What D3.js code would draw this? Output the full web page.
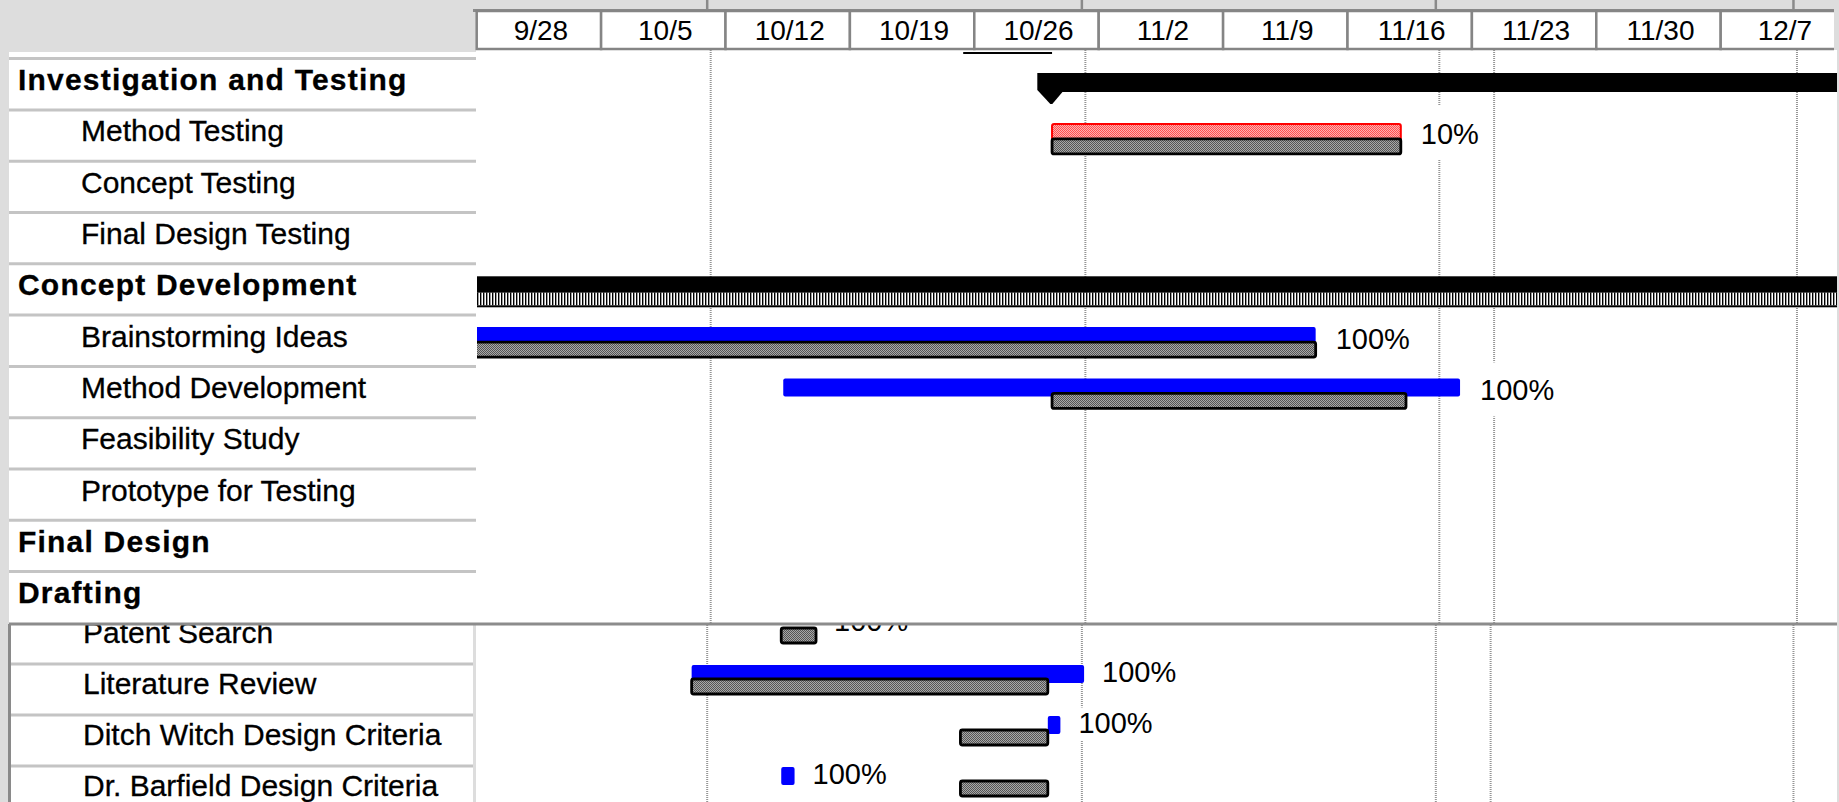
<!DOCTYPE html>
<html lang="en">
<head>
<meta charset="UTF-8">
<title>Project Schedule - Gantt Chart</title>
<script src="https://d3js.org/d3.v7.min.js"></script>
<style>
  html, body { margin: 0; padding: 0; background: #dddddd; overflow: hidden; }
  svg { display: block; font-family: "Liberation Sans", Arial, sans-serif; }
</style>
</head>
<body>
<svg id="chart" width="1839" height="802"></svg>
<script>
const upperTasks = ["Investigation and Testing", "Method Testing", "Concept Testing", "Final Design Testing",
  "Concept Development", "Brainstorming Ideas", "Method Development", "Feasibility Study",
  "Prototype for Testing", "Final Design", "Drafting"];
const upperLevels = [0, 1, 1, 1, 0, 1, 1, 1, 1, 0, 0];
const lowerTasks = ["Patent Search", "Literature Review", "Ditch Witch Design Criteria", "Dr. Barfield Design Criteria"];

const weekLabels = ["9/28", "10/5", "10/12", "10/19", "10/26", "11/2", "11/9", "11/16", "11/23", "11/30", "12/7"];
const gridDates = ["2008-10-11 04:00", "2008-11-01 06:00", "2008-11-21 04:00", "2008-12-11 07:00"];
const statusDate = "2008-11-24 06:00";
const headerMark = ["2008-10-25 09:00", "2008-10-30 09:00"];

// summary bars (run past the visible window)
const summaryTasks = ["Investigation and Testing", "Concept Development"];
const summaryStart = ["2008-10-30 08:00", "2008-09-20 00:00"];
const summaryEnd = ["2008-12-31 00:00", "2008-12-31 00:00"];
const summaryBaseline = [false, true];

// actual progress bars
const actualTasks = ["Method Testing", "Brainstorming Ideas", "Method Development",
  "Literature Review", "Ditch Witch Design Criteria", "Dr. Barfield Design Criteria"];
const actualStart = ["2008-10-30 09:00", "2008-09-15 00:00", "2008-10-15 06:00",
  "2008-10-10 07:00", "2008-10-30 08:00", "2008-10-15 08:00"];
const actualEnd = ["2008-11-19 00:00", "2008-11-14 05:00", "2008-11-22 08:00",
  "2008-11-01 09:00", "2008-10-31 01:00", "2008-10-16 02:00"];
const actualCritical = [true, false, false, false, false, false];

// baseline bars
const baseTasks = ["Method Testing", "Brainstorming Ideas", "Method Development", "Patent Search",
  "Literature Review", "Ditch Witch Design Criteria", "Dr. Barfield Design Criteria"];
const baseStart = ["2008-10-30 09:00", "2008-09-15 00:00", "2008-10-30 09:00", "2008-10-15 08:00",
  "2008-10-10 07:00", "2008-10-25 10:00", "2008-10-25 10:00"];
const baseEnd = ["2008-11-19 00:00", "2008-11-14 05:00", "2008-11-19 07:00", "2008-10-17 07:00",
  "2008-10-30 08:00", "2008-10-30 08:00", "2008-10-30 08:00"];

// percent complete labels
const pctTasks = ["Method Testing", "Brainstorming Ideas", "Method Development", "Patent Search",
  "Literature Review", "Ditch Witch Design Criteria", "Dr. Barfield Design Criteria"];
const pctValues = [10, 100, 100, 100, 100, 100, 100];

// ---- setup ----
const W = 1839, H = 802;
const chartLeft = 476, chartRight = 1837, splitY = 624;
const parseT = d3.utcParse("%Y-%m-%d %H:%M");
const parseW = s => d3.utcParse("%Y/%m/%d")("2008/" + s);

const firstWeek = parseW(weekLabels[0]);
const lastWeek = d3.utcDay.offset(parseW(weekLabels[weekLabels.length - 1]), 7);
const x = d3.scaleUtc().domain([firstWeek, lastWeek]).range([476.7, 476.7 + 124.4 * weekLabels.length]);
const xLow = x.copy().range(x.range().map(v => v - 3.5));   // lower screenshot sits a bit left

const yUp = d3.scaleBand().domain(upperTasks).range([58.6, 58.6 + 51.3 * upperTasks.length]);
const yLow = d3.scaleBand().domain(lowerTasks).range([613, 613 + 51 * lowerTasks.length]);

const isUpper = t => upperTasks.includes(t);
const rowTop = t => isUpper(t) ? yUp(t) : yLow(t);

const svg = d3.select("#chart");
const defs = svg.append("defs");

// dithered gray for baseline bars
const pg = defs.append("pattern").attr("id", "grayDither").attr("width", 2).attr("height", 2)
  .attr("patternUnits", "userSpaceOnUse");
pg.append("rect").attr("width", 2).attr("height", 2).attr("fill", "#a8a8a8");
pg.append("rect").attr("width", 1).attr("height", 1).attr("fill", "#555");
pg.append("rect").attr("x", 1).attr("y", 1).attr("width", 1).attr("height", 1).attr("fill", "#555");

// dithered red for the critical bar
const pr = defs.append("pattern").attr("id", "redDither").attr("width", 2).attr("height", 2)
  .attr("patternUnits", "userSpaceOnUse");
pr.append("rect").attr("width", 2).attr("height", 2).attr("fill", "#ffb0b0");
pr.append("rect").attr("width", 1).attr("height", 1).attr("fill", "#ff5050");
pr.append("rect").attr("x", 1).attr("y", 1).attr("width", 1).attr("height", 1).attr("fill", "#ff5050");

// vertical stripes under summary bar
const ps = defs.append("pattern").attr("id", "stripes").attr("width", 3).attr("height", 4)
  .attr("patternUnits", "userSpaceOnUse");
ps.append("rect").attr("width", 3).attr("height", 4).attr("fill", "#ffffff");
ps.append("rect").attr("width", 1).attr("height", 4).attr("fill", "#000000");
ps.append("rect").attr("x", 1).attr("width", 1).attr("height", 4).attr("fill", "#9a9a9a");

defs.append("clipPath").attr("id", "clipUp").append("rect")
  .attr("x", chartLeft + 1).attr("y", 50).attr("width", chartRight - chartLeft - 1).attr("height", splitY - 51);
defs.append("clipPath").attr("id", "clipLow").append("rect")
  .attr("x", chartLeft).attr("y", splitY + 1).attr("width", chartRight - chartLeft).attr("height", H - splitY);
defs.append("clipPath").attr("id", "clipLowLeft").append("rect")
  .attr("x", 0).attr("y", splitY + 1).attr("width", chartLeft).attr("height", H - splitY);
defs.append("clipPath").attr("id", "clipHeader").append("rect")
  .attr("x", 0).attr("y", 0).attr("width", 1834).attr("height", 60);

// background panels
svg.append("rect").attr("width", W).attr("height", H).attr("fill", "#dddddd");
svg.append("rect").attr("x", chartLeft).attr("y", 50).attr("width", chartRight - chartLeft).attr("height", H - 50).attr("fill", "#fff");
svg.append("rect").attr("x", 9).attr("y", 52).attr("width", chartLeft - 9).attr("height", splitY - 52).attr("fill", "#fff");
svg.append("rect").attr("x", 9).attr("y", splitY).attr("width", 464).attr("height", H - splitY).attr("fill", "#fff");
svg.append("line").attr("x1", 9.5).attr("x2", 9.5).attr("y1", splitY).attr("y2", H)
  .attr("stroke", "#8a8a8a").attr("stroke-width", 3);

// ---- task name column ----
const left = svg.append("g");
left.selectAll(".rowline").data(upperTasks).join("line")
  .attr("x1", 9).attr("x2", chartLeft)
  .attr("y1", d => yUp(d)).attr("y2", d => yUp(d))
  .attr("stroke", "#c4c4c4").attr("stroke-width", 3);
left.selectAll(".name").data(upperTasks).join("text")
  .attr("x", (d, i) => upperLevels[i] === 0 ? 18 : 81)
  .attr("y", d => yUp(d) + 31.5)
  .attr("font-size", 30)
  .attr("font-weight", (d, i) => upperLevels[i] === 0 ? "bold" : "normal")
  .attr("letter-spacing", (d, i) => upperLevels[i] === 0 ? 1.2 : 0)
  .attr("fill", "#000").attr("stroke", "#000").attr("stroke-width", 0.3)
  .text(d => d);

const leftLow = svg.append("g").attr("clip-path", "url(#clipLowLeft)");
leftLow.selectAll("line").data(lowerTasks.slice(1)).join("line")
  .attr("x1", 11).attr("x2", 473)
  .attr("y1", d => yLow(d)).attr("y2", d => yLow(d))
  .attr("stroke", "#c4c4c4").attr("stroke-width", 3);
leftLow.selectAll("text").data(lowerTasks).join("text")
  .attr("x", 83).attr("y", d => yLow(d) + 30)
  .attr("font-size", 30).attr("fill", "#000").attr("stroke", "#000").attr("stroke-width", 0.3)
  .text(d => d);

// ---- chart panels ----
function drawPanel(g, scale, tasks, y0, y1) {
  // gridlines
  g.selectAll(".grid").data(gridDates.concat([statusDate])).join("line")
    .attr("x1", d => scale(parseT(d))).attr("x2", d => scale(parseT(d)))
    .attr("y1", y0).attr("y2", y1)
    .attr("stroke", "#959595").attr("stroke-width", 2).attr("stroke-dasharray", "1,1");

  const upper = tasks === upperTasks;
  const lblY = t => upper ? rowTop(t) + 34 : rowTop(t) + 17.5;
  const aTop = upper ? 12 : 1, bTop = upper ? 27 : 15;

  // percent labels (white box hides gridlines)
  const pct = pctTasks.map((t, i) => ({ t, v: pctValues[i] })).filter(d => tasks.includes(d.t));
  const lblX = d => {
    const ai = actualTasks.indexOf(d.t);
    const end = ai >= 0 ? actualEnd[ai] : baseEnd[baseTasks.indexOf(d.t)];
    return scale(parseT(end)) + (upper ? 20 : 18);
  };
  const bgs = g.append("g");
  const bars = g.append("g");
  const lbls = g.append("g").selectAll("text").data(pct).join("text")
    .attr("x", lblX).attr("y", d => lblY(d.t))
    .attr("font-size", 29).attr("fill", "#000")
    .text(d => d.v + "%");
  lbls.each(function(d) {
    const w = this.getComputedTextLength();
    bgs.append("rect")
      .attr("x", lblX(d) - 4).attr("width", w + 18)
      .attr("y", lblY(d.t) - (upper ? 38 : 25)).attr("height", upper ? 54 : 33)
      .attr("fill", "#fff");
  });

  // summary bars
  summaryTasks.forEach((t, i) => {
    if (!tasks.includes(t)) return;
    const x0 = scale(parseT(summaryStart[i])), x1 = scale(parseT(summaryEnd[i]));
    const top = rowTop(t);
    if (summaryBaseline[i]) {
      bars.append("rect").attr("x", x0).attr("y", top + 12.5).attr("width", x1 - x0).attr("height", 16.5).attr("fill", "#000");
      bars.append("rect").attr("x", x0).attr("y", top + 29).attr("width", x1 - x0).attr("height", 12.5).attr("fill", "url(#stripes)");
      bars.append("rect").attr("x", x0).attr("y", top + 41.5).attr("width", x1 - x0).attr("height", 2).attr("fill", "#000");
    } else {
      bars.append("rect").attr("x", x0).attr("y", top + 14.4).attr("width", x1 - x0).attr("height", 19).attr("fill", "#000");
      const a = top + 14.4;
      bars.append("path")
        .attr("d", `M${x0 - 14},${a} L${x0 + 12},${a} L${x0 + 12},${a + 18} L${x0 + 1},${a + 31} L${x0 - 1},${a + 31} L${x0 - 14},${a + 17} Z`)
        .attr("fill", "#000");
    }
  });

  // actual bars
  actualTasks.forEach((t, i) => {
    if (!tasks.includes(t)) return;
    const x0 = scale(parseT(actualStart[i])), x1 = scale(parseT(actualEnd[i]));
    const r = bars.append("rect").attr("x", x0).attr("y", rowTop(t) + aTop + (actualCritical[i] ? 2 : 0))
      .attr("width", x1 - x0).attr("height", 18).attr("rx", 2);
    if (actualCritical[i]) r.attr("fill", "url(#redDither)").attr("stroke", "#ff0000").attr("stroke-width", 2);
    else r.attr("fill", "#0000ff");
  });

  // baseline bars
  baseTasks.forEach((t, i) => {
    if (!tasks.includes(t)) return;
    const crit = actualCritical[actualTasks.indexOf(t)] === true;
    const x0 = scale(parseT(baseStart[i])), x1 = scale(parseT(baseEnd[i]));
    bars.append("rect").attr("x", x0).attr("y", rowTop(t) + bTop + (crit ? 2 : 0))
      .attr("width", x1 - x0).attr("height", 15).attr("rx", 2)
      .attr("fill", "url(#grayDither)").attr("stroke", "#000").attr("stroke-width", 2.8);
  });
}

drawPanel(svg.append("g").attr("clip-path", "url(#clipLow)"), xLow, lowerTasks, splitY + 1, H);
drawPanel(svg.append("g").attr("clip-path", "url(#clipUp)"), x, upperTasks, 50, splitY - 1);

// split line between the two views
svg.append("line").attr("x1", 9).attr("x2", chartRight).attr("y1", splitY).attr("y2", splitY)
  .attr("stroke", "#8c8c8c").attr("stroke-width", 3);

// ---- timescale header ----
const header = svg.append("g").attr("clip-path", "url(#clipHeader)");
header.selectAll(".tick").data(gridDates).join("line")
  .attr("x1", d => xLow(parseT(d))).attr("x2", d => xLow(parseT(d)))
  .attr("y1", 0).attr("y2", 11)
  .attr("stroke", "#8a8a8a").attr("stroke-width", 2.5);
header.append("line").attr("x1", 473).attr("x2", 1834).attr("y1", 10.5).attr("y2", 10.5)
  .attr("stroke", "#8a8a8a").attr("stroke-width", 3);
header.selectAll(".cell").data(weekLabels).join("rect")
  .attr("x", d => x(parseW(d)))
  .attr("width", d => x(d3.utcDay.offset(parseW(d), 7)) - x(parseW(d)))
  .attr("y", 11).attr("height", 38)
  .attr("fill", "#fff").attr("stroke", "#858585").attr("stroke-width", 2.5);
header.selectAll(".lbl").data(weekLabels).join("text")
  .attr("x", d => (x(parseW(d)) + x(d3.utcDay.offset(parseW(d), 7))) / 2 + 2)
  .attr("y", 40)
  .attr("text-anchor", "middle").attr("font-size", 28).attr("fill", "#000")
  .text(d => d);

svg.append("line")
  .attr("x1", x(parseT(headerMark[0]))).attr("x2", x(parseT(headerMark[1])))
  .attr("y1", 53).attr("y2", 53)
  .attr("stroke", "#000").attr("stroke-width", 2);
</script>
</body>
</html>
